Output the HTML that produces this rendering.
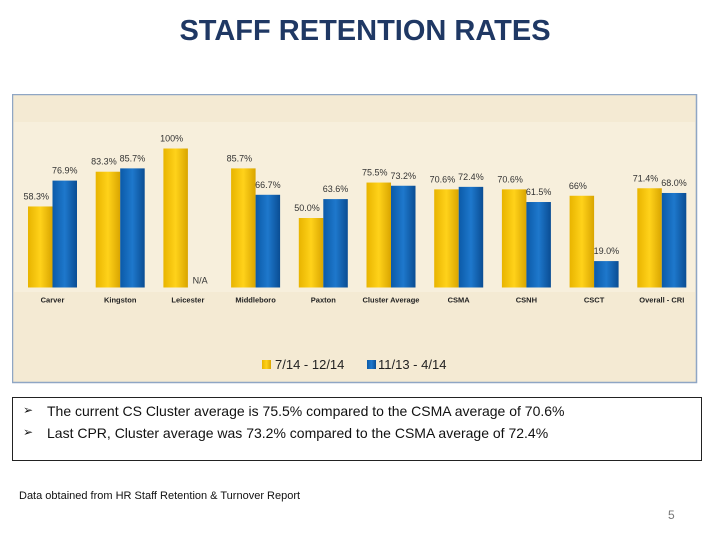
<!DOCTYPE html>
<html><head><meta charset="utf-8"><style>
body{margin:0;width:720px;height:540px;background:#fff;position:relative;overflow:hidden;font-family:"Liberation Sans",sans-serif}
#title{position:absolute;left:0;width:730px;top:15px;text-align:center;font-size:29px;font-weight:bold;color:#1f3864}
#chart{position:absolute;left:12px;top:94px}
#box{position:absolute;left:12px;top:397px;width:690px;height:64px;border:1px solid #222;box-sizing:border-box;font-size:14px;color:#111}
#box div{position:absolute;left:34px}
.arrow{position:absolute;left:-24px;font-size:12px}
#src{position:absolute;left:19px;top:490px;font-size:11px;color:#111}
#pg{position:absolute;left:668px;top:508px;font-size:12px;color:#777}
</style></head><body>
<div id="title">STAFF RETENTION RATES</div>
<svg id="chart" width="686" height="290">
<defs>
<linearGradient id="gy" x1="0" x2="1"><stop offset="0" stop-color="#e8b400"/><stop offset="0.5" stop-color="#ffd21a"/><stop offset="1" stop-color="#d9a500"/></linearGradient>
<linearGradient id="gb" x1="0" x2="1"><stop offset="0" stop-color="#0b5aa8"/><stop offset="0.5" stop-color="#1e78cc"/><stop offset="1" stop-color="#0a4d93"/></linearGradient>
</defs>
<rect x="0.5" y="0.5" width="684" height="288" fill="#f4ead3" stroke="#8fa6c4" stroke-width="1.5"/>
<rect x="2" y="28" width="681" height="170" fill="#f7efdc"/>
<g id="bars"></g>
<g id="legend">
<rect x="250" y="266" width="9" height="9" fill="url(#gy)"/>
<text x="263" y="275" font-size="13" fill="#222" font-family="Liberation Sans">7/14 - 12/14</text>
<rect x="355" y="266" width="9" height="9" fill="url(#gb)"/>
<text x="366" y="275" font-size="13" fill="#222" font-family="Liberation Sans">11/13 - 4/14</text>
</g>
</svg>
<div id="box">
<div style="top:5px"><span class="arrow">➢</span>The current CS Cluster average is 75.5% compared to the CSMA average of 70.6%</div>
<div style="top:27px"><span class="arrow">➢</span>Last CPR, Cluster average was 73.2% compared to the CSMA average of 72.4%</div>
</div>
<div id="src">Data obtained from HR Staff Retention &amp; Turnover Report</div>
<div id="pg">5</div>
<script>
const categories=["Carver","Kingston","Leicester","Middleboro","Paxton","Cluster Average","CSMA","CSNH","CSCT","Overall - CRI"];
const current=[58.3,83.3,100,85.7,50.0,75.5,70.6,70.6,66,71.4];
const currentLabels=["58.3%","83.3%","100%","85.7%","50.0%","75.5%","70.6%","70.6%","66%","71.4%"];
const prior=[76.9,85.7,null,66.7,63.6,73.2,72.4,61.5,19.0,68.0];
const priorLabels=["76.9%","85.7%","N/A","66.7%","63.6%","73.2%","72.4%","61.5%","19.0%","68.0%"];
const NS="http://www.w3.org/2000/svg";
const g=document.getElementById('bars');
const base=193.5, scale=139/100, x0=40.5, step=67.7, bw=24.5;
const xc=i=>x0+i*step;
const y=v=>base-v*scale;
function mk(t,a){const e=document.createElementNS(NS,t);for(const k in a)e.setAttribute(k,a[k]);g.appendChild(e);return e;}
categories.forEach((c,i)=>{
  const cx=xc(i);
  const r1=mk('rect',{x:cx-bw,y:y(current[i]),width:bw,height:current[i]*scale,fill:'url(#gy)'});
  
  
  const t1=mk('text',{x:cx-bw/2-4,y:y(current[i])-7,'font-size':9,'text-anchor':'middle',fill:'#333','font-family':'Liberation Sans'});
  t1.textContent=currentLabels[i];
  
  
  if(prior[i]!==null){
    const r2=mk('rect',{x:cx,y:y(prior[i]),width:bw,height:prior[i]*scale,fill:'url(#gb)'});
    
    
  }
  const pv=prior[i]===null?0:prior[i];
  const t2=mk('text',{x:cx+bw/2,y:prior[i]===null?base-4:y(pv)-7,'font-size':9,'text-anchor':'middle',fill:'#333','font-family':'Liberation Sans'});
  t2.textContent=priorLabels[i];
  
  
  const t3=mk('text',{x:cx,y:base+15,'font-size':7.5,'font-weight':'bold','text-anchor':'middle',fill:'#222','font-family':'Liberation Sans'});
  t3.textContent=c;
  
  
});
</script>
</body></html>
